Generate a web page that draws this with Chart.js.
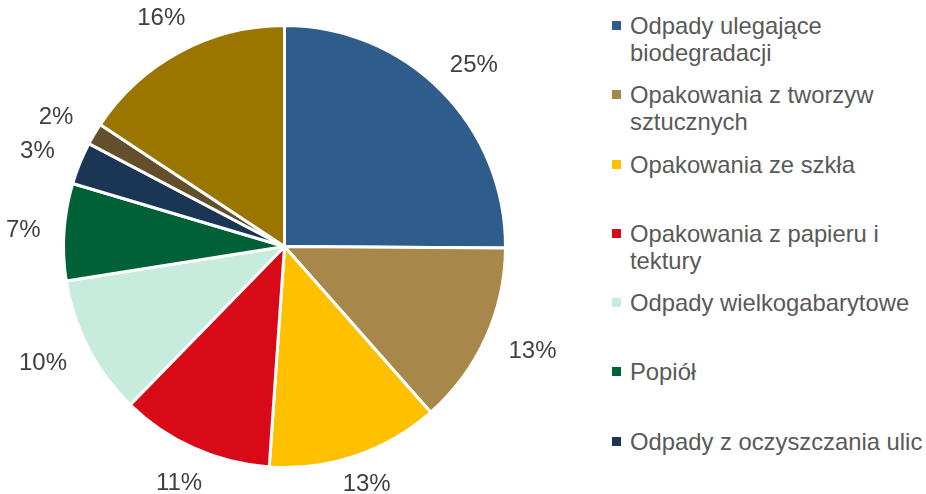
<!DOCTYPE html>
<html lang="pl">
<head>
    <meta charset="UTF-8">
    <title>Struktura odpadów</title>
    <script src="https://cdn.jsdelivr.net/npm/chart.js"></script>
    <style>
        body { margin: 0; background: #fff; font-family: "Liberation Sans", Arial, sans-serif; }
        #wrap { position: relative; width: 926px; height: 494px; overflow: hidden; }
        #chartBox { position: absolute; left: 0; top: 0; width: 569px; height: 494px; }
        #legend { position: absolute; left: 612px; top: 12px; width: 314px; }
        .item { position: relative; height: 69.3px; padding-left: 18px; font-size: 23.8px; line-height: 27px; color: #595959; }
        .item span.box { position: absolute; left: 0; top: 9px; width: 9px; height: 9px; }
    </style>
</head>
<body>
<div id="wrap">
    <div id="chartBox"><canvas id="wasteChart"></canvas></div>
    <div id="legend"></div>
</div>
<script>
    const categories = [
        'Odpady ulegające biodegradacji',
        'Opakowania z tworzyw sztucznych',
        'Opakowania ze szkła',
        'Opakowania z papieru i tektury',
        'Odpady wielkogabarytowe',
        'Popiół',
        'Odpady z oczyszczania ulic',
        'Metale',
        'Pozostałe'
    ];
    const shares = [25.1, 13.4, 12.6, 11.2, 10.2, 7.1, 3.1, 1.6, 15.7];
    const colors = ['#2F5D8B', '#A8884A', '#FFC000', '#D90A17', '#C7EBDD', '#006136', '#1B3654', '#634F2B', '#9A7500'];

    // percentage labels outside each slice, box edge kept just off the rim
    const outsideLabels = {
        id: 'outsideLabels',
        afterDatasetsDraw(chart) {
            const ctx = chart.ctx;
            const meta = chart.getDatasetMeta(0);
            ctx.save();
            ctx.font = '24px "Liberation Sans", Arial, sans-serif';
            ctx.fillStyle = '#404040';
            ctx.textAlign = 'center';
            ctx.textBaseline = 'middle';
            meta.data.forEach((arc, i) => {
                const p = arc.getProps(['x', 'y', 'startAngle', 'endAngle', 'outerRadius'], true);
                const text = Math.round(shares[i]) + '%';
                const w = ctx.measureText(text).width + 8;
                const h = 28;
                const mid = (p.startAngle + p.endAngle) / 2;
                const r = p.outerRadius + 26;
                let x = p.x + Math.cos(mid) * (r + w / 2 * Math.abs(Math.cos(mid)));
                let y = p.y + Math.sin(mid) * (r + h / 2 * Math.abs(Math.sin(mid)));
                x = Math.max(w / 2 + 2, Math.min(chart.width - w / 2, x));
                y = Math.max(14, Math.min(chart.height - 10, y));
                ctx.fillText(text, x, y);
            });
            ctx.restore();
        }
    };

    const chart = new Chart(document.getElementById('wasteChart'), {
        type: 'pie',
        data: {
            labels: categories,
            datasets: [{
                data: shares,
                backgroundColor: colors,
                borderColor: '#ffffff',
                borderWidth: 3
            }]
        },
        options: {
            responsive: true,
            maintainAspectRatio: false,
            animation: false,
            layout: { padding: { top: 24, bottom: 25, left: 0, right: 0 } },
            plugins: {
                legend: { display: false },
                tooltip: { enabled: false }
            }
        },
        plugins: [outsideLabels]
    });

    const legend = document.getElementById('legend');
    chart.data.labels.forEach((name, i) => {
        const div = document.createElement('div');
        div.className = 'item';
        div.innerHTML = '<span class="box" style="background:' + colors[i] + '"></span>' + name;
        legend.appendChild(div);
    });
</script>
</body>
</html>
